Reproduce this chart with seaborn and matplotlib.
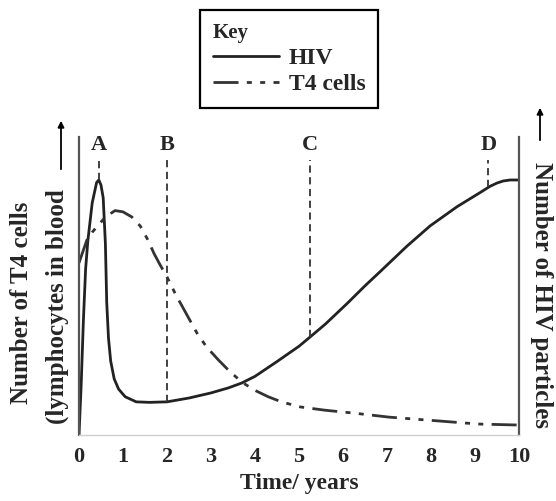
import numpy as np
import pandas as pd
import matplotlib
matplotlib.use('Agg')
import matplotlib.pyplot as plt
import seaborn as sns
from matplotlib.lines import Line2D

# values (arbitrary units, HIV peak = 100)
hiv_t = [0, 0.05, 0.1, 0.15, 0.2, 0.3, 0.4, 0.45, 0.5, 0.55, 0.6, 0.63, 0.67, 0.72,
         0.8, 0.9, 1.05, 1.3, 1.6, 2.0, 2.5, 3.0, 3.4, 3.7, 4.0, 4.5, 5.0, 5.25,
         5.6, 6.09, 6.5, 6.84, 7.45, 7.98, 8.59, 9.11, 9.34, 9.5, 9.64, 9.8, 10]
hiv_n = [0, 20, 45, 65, 76, 91, 99, 100, 98, 93, 75, 52, 38, 29,
         22, 18, 15, 13, 12.8, 13, 14.5, 16.5, 18.5, 20.4, 23, 28.8, 34.8, 38.4,
         43.5, 51.5, 58.5, 64, 74, 82, 89.5, 95, 97.5, 98.8, 99.6, 100, 100]

t4_t = [0, 0.1, 0.18, 0.3, 0.45, 0.6, 0.82, 1.0, 1.2, 1.39, 1.55, 1.71, 1.85, 2.0,
        2.2, 2.44, 2.68, 2.9, 3.17, 3.45, 3.73, 4.0, 4.3, 4.6, 5.03, 5.6, 6.24,
        7.05, 8.18, 9.07, 10]
t4_n = [67.5, 72.5, 76.5, 79.5, 82.5, 85.5, 88, 87.5, 85.5, 82, 77, 71, 66.5, 62,
        55, 47.5, 40, 34.5, 29.4, 24.5, 20.4, 17.5, 15, 13, 11, 9.7, 8.6,
        7, 5.5, 4.3, 3.9]

stage_labels = ['A', 'B', 'C', 'D']
stage_t = [0.45, 2.0, 5.25, 9.3]
year_ticks = list(range(0, 11))

hiv = pd.DataFrame({'time': hiv_t, 'n': hiv_n})
t4 = pd.DataFrame({'time': t4_t, 'n': t4_n})

sns.set_style('white')
plt.rcParams['font.family'] = ['Liberation Serif', 'DejaVu Serif']
plt.rcParams['font.weight'] = 'bold'

fig = plt.figure(figsize=(5.56, 5.01), dpi=100)
ax = fig.add_axes([79 / 556, 66 / 501, 440 / 556, 305 / 501])

sns.lineplot(data=hiv, x='time', y='n', ax=ax, color='#222222', lw=2.0,
             estimator=None, sort=False)
sns.lineplot(data=t4, x='time', y='n', ax=ax, color='#333333', lw=2.0,
             estimator=None, sort=False, dashes=False)
ax.lines[1].set_dashes([9, 3, 1.8, 3, 1.8, 3])

# stage markers
for lab, t in zip(stage_labels, stage_t):
    top = np.interp(t, hiv_t, hiv_n)
    ax.plot([t, t], [top, 108], color='#333333', lw=1.3, dashes=(4, 2.5))
    ax.text(t, 113.7, lab, ha='center', va='center', fontsize=16, fontweight='bold')

ax.set_xlim(0, 10)
ax.set_ylim(0, 119.6)
ax.set_xticks(year_ticks)
ax.set_xticklabels([str(v) for v in year_ticks])
ax.set_yticks([])
ax.tick_params(axis='x', length=3, width=1.5, color='#333333', labelsize=16, pad=6)
ax.set_xlabel('Time/ years', fontsize=17, fontweight='bold', labelpad=4)
ax.set_ylabel('')

sns.despine(ax=ax, top=True, right=False, left=False, bottom=False)
for side in ['left', 'right']:
    ax.spines[side].set_bounds(0, 117)
    ax.spines[side].set_color('#555555')
    ax.spines[side].set_linewidth(1.6)
ax.spines['bottom'].set_color('#d0d0d0')
ax.spines['bottom'].set_linewidth(1.0)

# axis labels with arrows
fig.text(22 / 556, 1 - 303 / 501, 'Number of T4 cells', rotation=90,
         ha='center', va='center', fontsize=18, fontweight='bold')
fig.text(57 / 556, 1 - 307 / 501, '(lymphocytes in blood', rotation=90,
         ha='center', va='center', fontsize=18, fontweight='bold')
fig.text(542 / 556, 1 - 295 / 501, 'Number of HIV particles', rotation=270,
         ha='center', va='center', fontsize=18, fontweight='bold')
arrow = dict(arrowstyle='-|>', color='black', lw=1.3, mutation_scale=9)
ax.annotate('', xy=(61, 501 - 118), xytext=(61, 501 - 172),
            xycoords='figure pixels', textcoords='figure pixels', arrowprops=arrow)
ax.annotate('', xy=(540, 501 - 105), xytext=(540, 501 - 143),
            xycoords='figure pixels', textcoords='figure pixels', arrowprops=arrow)

# key
handles = [Line2D([], [], color='#222222', lw=2.0),
           Line2D([], [], color='#333333', lw=2.0, dashes=[9, 3, 1.8, 3, 1.8, 3])]
leg = fig.legend(handles, ['HIV', 'T4 cells'], title='Key', loc='upper left',
                 bbox_to_anchor=(200 / 556, 1 - 10 / 501), alignment='left',
                 fontsize=17, title_fontproperties={'size': 15, 'weight': 'bold'},
                 handlelength=2.8, handletextpad=0.4, labelspacing=0.2,
                 borderpad=0.55, borderaxespad=0, fancybox=False, framealpha=1)
leg.get_frame().set_edgecolor('black')
leg.get_frame().set_linewidth(1.6)

fig.savefig('out.png', dpi=100)
